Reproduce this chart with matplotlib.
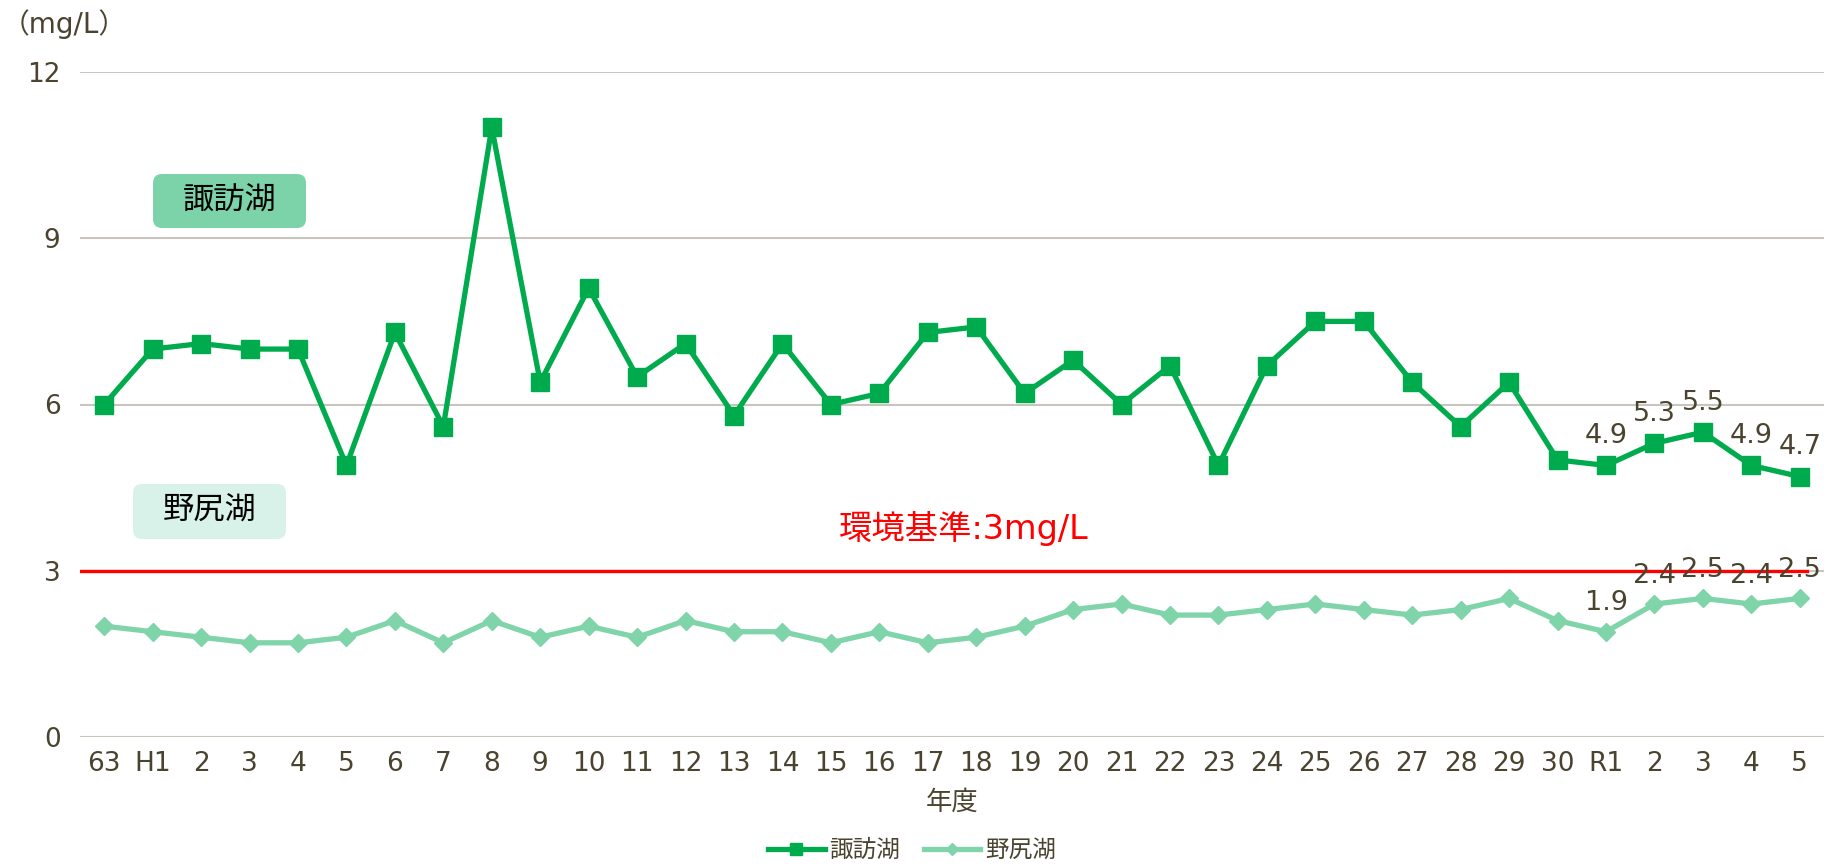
import matplotlib
matplotlib.use("Agg")
import matplotlib.pyplot as plt
from matplotlib.patches import FancyBboxPatch
from matplotlib.lines import Line2D

plt.rcParams["font.family"] = ["DejaVu Sans", "Noto Sans CJK JP"]

years = ["63", "H1", "2", "3", "4", "5", "6", "7", "8", "9", "10", "11", "12",
         "13", "14", "15", "16", "17", "18", "19", "20", "21", "22", "23", "24",
         "25", "26", "27", "28", "29", "30", "R1", "2", "3", "4", "5"]
suwa = [6.0, 7.0, 7.1, 7.0, 7.0, 4.9, 7.3, 5.6, 11.0, 6.4, 8.1, 6.5, 7.1,
        5.8, 7.1, 6.0, 6.2, 7.3, 7.4, 6.2, 6.8, 6.0, 6.7, 4.9, 6.7,
        7.5, 7.5, 6.4, 5.6, 6.4, 5.0, 4.9, 5.3, 5.5, 4.9, 4.7]
nojiri = [2.0, 1.9, 1.8, 1.7, 1.7, 1.8, 2.1, 1.7, 2.1, 1.8, 2.0, 1.8, 2.1,
          1.9, 1.9, 1.7, 1.9, 1.7, 1.8, 2.0, 2.3, 2.4, 2.2, 2.2, 2.3,
          2.4, 2.3, 2.2, 2.3, 2.5, 2.1, 1.9, 2.4, 2.5, 2.4, 2.5]
standard = 3
n_labeled = 5  # last five years get value labels

SUWA_C = "#00ab4e"
NOJIRI_C = "#80d4aa"
TEXT_C = "#4a4330"
GRID_C = "#c9c5bd"

W, H = 1832, 865
fig = plt.figure(figsize=(W / 100, H / 100), dpi=100)
ax = fig.add_axes([80 / W, 1 - 737 / H, 1744 / W, (737 - 72) / H])

x = list(range(len(years)))
ax.plot(x, suwa, color=SUWA_C, lw=3.8, marker="s", ms=12.5, zorder=4)
ax.plot(x, nojiri, color=NOJIRI_C, lw=3.8, marker="D", ms=9.5, zorder=3)

ax.plot([-0.5, len(years) - 0.85], [standard, standard], color="#ff0000",
        lw=2.4, zorder=2)

for i in range(len(years) - n_labeled, len(years)):
    ax.annotate(f"{suwa[i]:.1f}", (i, suwa[i]), xytext=(0, 12),
                textcoords="offset points", ha="center", va="bottom",
                fontsize=19.5, color=TEXT_C, zorder=5)
    ax.annotate(f"{nojiri[i]:.1f}", (i, nojiri[i]), xytext=(0, 11),
                textcoords="offset points", ha="center", va="bottom",
                fontsize=19.5, color=TEXT_C, zorder=5)

ax.set_xlim(-0.5, len(years) - 0.5)
ax.set_ylim(0, 12)
ax.set_yticks([0, 3, 6, 9, 12])
ax.set_xticks(x)
ax.set_xticklabels(years)
ax.yaxis.grid(True, color=GRID_C, lw=1.5)
ax.set_axisbelow(True)
for s in ax.spines.values():
    s.set_visible(False)
ax.tick_params(length=0, labelsize=19, colors=TEXT_C)
ax.tick_params(axis="y", pad=14)
ax.tick_params(axis="x", pad=10)
ax.set_xlabel("年度", fontsize=19, color=TEXT_C, labelpad=9)

fig.text(2 / W, 1 - 24 / H, "（mg/L）", fontsize=20, color=TEXT_C,
         ha="left", va="center")


def label_box(x0, y0, x1, y1, text, fc):
    box = FancyBboxPatch((x0, H - y1), x1 - x0, y1 - y0,
                         boxstyle="round,pad=0,rounding_size=9",
                         transform=None, fc=fc, ec="none", zorder=1)
    fig.patches.append(box)
    fig.text((x0 + x1) / 2 / W, 1 - (y0 + y1) / 2 / H, text, fontsize=22.5,
             color="black", ha="center", va="center")


label_box(153, 174, 306, 228, "諏訪湖", "#7dd3a9")
label_box(133, 484, 286, 539, "野尻湖", "#d8f2ea")

fig.text(964 / W, 1 - 528 / H, "環境基準:3mg/L", fontsize=24,
         color="#ff0000", ha="center", va="center")

handles = [
    Line2D([], [], color=SUWA_C, lw=3.8, marker="s", ms=9),
    Line2D([], [], color=NOJIRI_C, lw=3.8, marker="D", ms=6.5),
]
fig.legend(handles, ["諏訪湖", "野尻湖"], loc="center",
           bbox_to_anchor=(912 / W, 1 - 850 / H), ncol=2, frameon=False,
           fontsize=17, labelcolor=TEXT_C, handlelength=2.4,
           handletextpad=0.2, columnspacing=1.0)

fig.savefig("out.png", dpi=100)
